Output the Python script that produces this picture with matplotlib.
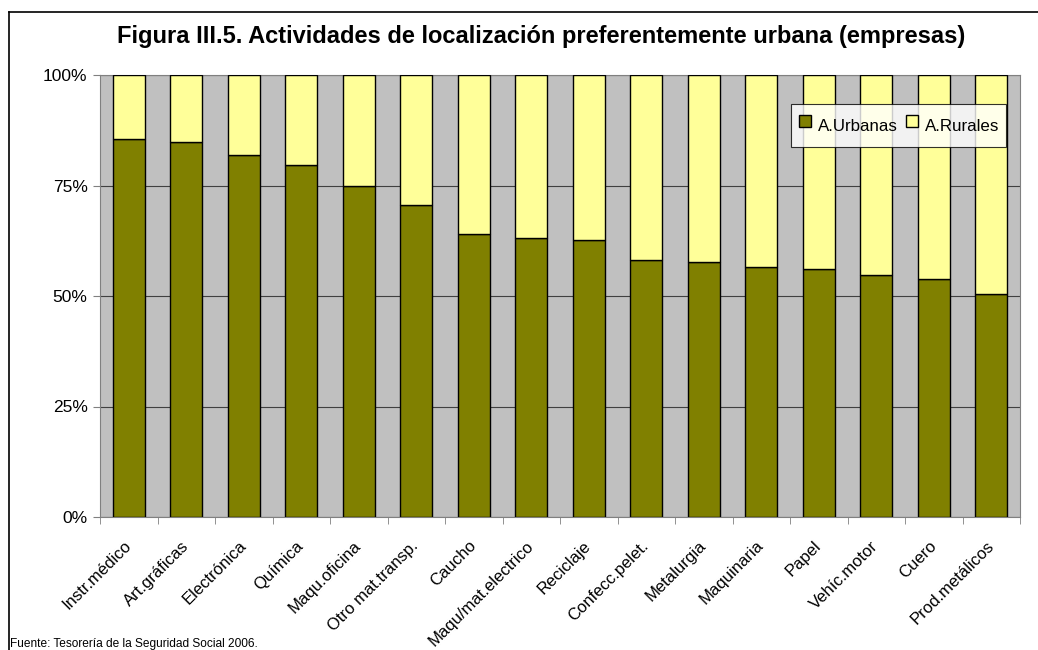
import matplotlib.pyplot as plt
from matplotlib.lines import Line2D
import numpy as np

plt.rcParams['font.family'] = ['Liberation Sans', 'DejaVu Sans']

# datos (% de empresas)
categorias = ['Instr.médico', 'Art.gráficas', 'Electrónica', 'Química', 'Maqu.oficina',
              'Otro mat.transp.', 'Caucho', 'Maqu/mat.electrico', 'Reciclaje',
              'Confecc.pelet.', 'Metalurgia', 'Maquinaria', 'Papel', 'Vehíc.motor',
              'Cuero', 'Prod.metálicos']
urbanas = [85.6, 84.9, 81.9, 79.7, 75.0, 70.5, 64.1, 63.2, 62.6,
           58.1, 57.8, 56.6, 56.2, 54.7, 53.8, 50.4]
rurales = [100 - u for u in urbanas]

col_urb = '#808000'
col_rur = '#FFFF99'

fig = plt.figure(figsize=(10.38, 6.5), dpi=100)
ax = fig.add_axes([100/1038, 1 - 517/650, 920/1038, 442/650])
ax.set_facecolor('#C0C0C0')

x = np.arange(len(categorias))
w = 0.556
ax.bar(x, urbanas, w, color=col_urb, edgecolor='black', linewidth=1.0, zorder=3)
ax.bar(x, rurales, w, bottom=urbanas, color=col_rur, edgecolor='black',
       linewidth=1.0, zorder=3)

ax.set_xlim(-0.5, len(categorias) - 0.5)
ax.set_ylim(0, 100)
ax.set_yticks([0, 25, 50, 75, 100])
ax.set_yticklabels(['0%', '25%', '50%', '75%', '100%'], fontsize=12.5)
ax.yaxis.grid(True, color='#404040', linewidth=0.8, zorder=1)
ax.tick_params(axis='y', length=5, color='#808080', pad=4)

ax.set_xticks(x)
ax.set_xticklabels(categorias, rotation=45, ha='right', va='center',
                   rotation_mode='anchor', fontsize=12)
ax.tick_params(axis='x', length=0, pad=19)
ax.set_xticks(np.arange(len(categorias) + 1) - 0.5, minor=True)
ax.tick_params(axis='x', which='minor', length=5, color='#808080')

for s in ax.spines.values():
    s.set_color('#808080')

handles = [Line2D([], [], marker='s', linestyle='none', markersize=8,
                  markerfacecolor=c, markeredgecolor='black', markeredgewidth=1.0)
           for c in (col_urb, col_rur)]
leg = ax.legend(handles, ['A.Urbanas', 'A.Rurales'], loc='upper right', ncol=2,
                fontsize=12.2, frameon=True, fancybox=False, edgecolor='black',
                handlelength=0.9, handleheight=2.3, handletextpad=0.3,
                columnspacing=0.4, borderpad=0.4, borderaxespad=0)
leg.set_bbox_to_anchor((1006/1038, 1 - 104/650), transform=fig.transFigure)
leg.get_frame().set_linewidth(0.8)

fig.suptitle('Figura III.5. Actividades de localización preferentemente urbana (empresas)',
             x=541/1038, y=1 - 37/650, va='center', fontsize=17, fontweight='bold')

fig.text(10/1038, 1 - 644/650, 'Fuente: Tesorería de la Seguridad Social 2006.',
         fontsize=8.6, va='center')

# marco exterior
fig.add_artist(Line2D([9/1038, 9/1038], [0, 1 - 12/650], color='black', linewidth=1.2,
                      transform=fig.transFigure))
fig.add_artist(Line2D([9/1038, 1], [1 - 12/650, 1 - 12/650], color='black', linewidth=1.2,
                      transform=fig.transFigure))

fig.savefig('out.png', dpi=100)
